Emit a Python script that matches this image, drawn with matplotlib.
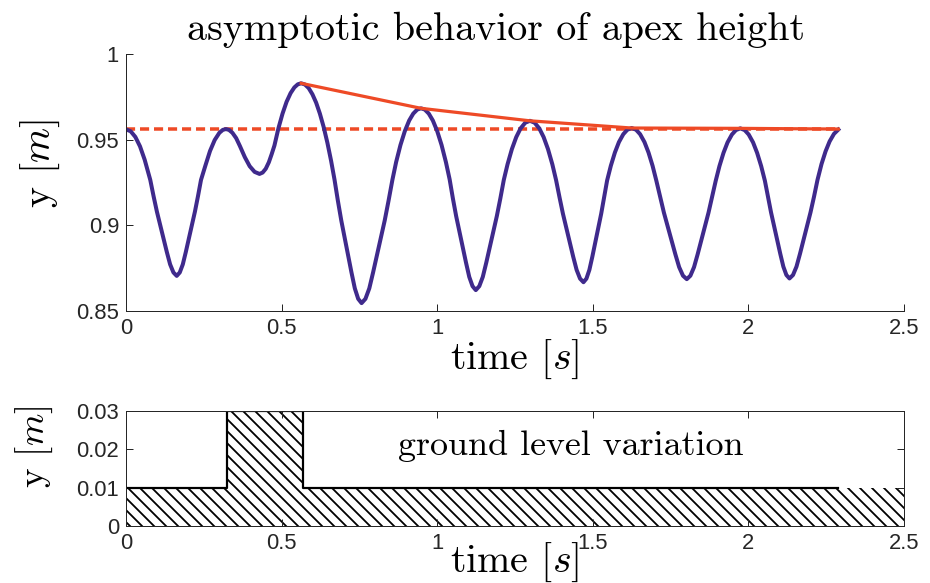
import numpy as np
import matplotlib.pyplot as plt

# apex height trajectory (t [s], y [m])
traj = [
    (0.000, 0.9560), (0.015, 0.9549), (0.030, 0.9516), (0.045, 0.9461), (0.060, 0.9383),
    (0.078, 0.9265), (0.0886, 0.9170), (0.0993, 0.9080), (0.1099, 0.9002), (0.1205, 0.8923),
    (0.1311, 0.8845), (0.1418, 0.8772), (0.1524, 0.8725), (0.163, 0.8705), (0.1728, 0.8725),
    (0.1825, 0.8772), (0.1923, 0.8845), (0.2020, 0.8923), (0.2118, 0.9002), (0.2215, 0.9080),
    (0.2313, 0.9170), (0.241, 0.9265), (0.255, 0.9348), (0.270, 0.9434), (0.285, 0.9498),
    (0.300, 0.9540), (0.311, 0.9557), (0.321, 0.9562), (0.331, 0.9557), (0.342, 0.9540),
    (0.354, 0.9509), (0.366, 0.9463), (0.3818, 0.9398), (0.3975, 0.9345), (0.4133, 0.9312),
    (0.429, 0.9300), (0.439, 0.9308), (0.449, 0.9330), (0.459, 0.9368), (0.468, 0.9415),
    (0.477, 0.9466), (0.490, 0.9568), (0.503, 0.9652), (0.516, 0.9721), (0.529, 0.9772),
    (0.541, 0.9805), (0.552, 0.9823), (0.563, 0.9829), (0.575, 0.9822), (0.587, 0.9801),
    (0.599, 0.9765), (0.611, 0.9716), (0.623, 0.9652), (0.635, 0.9575), (0.647, 0.9483),
    (0.659, 0.9377), (0.670, 0.9267), (0.6809, 0.9143), (0.6918, 0.9028), (0.7026, 0.8927),
    (0.7135, 0.8826), (0.7244, 0.8726), (0.7353, 0.8632), (0.7461, 0.8571), (0.757, 0.8546),
    (0.7694, 0.8571), (0.7818, 0.8632), (0.7941, 0.8726), (0.8065, 0.8826), (0.8189, 0.8927),
    (0.8313, 0.9028), (0.8436, 0.9143), (0.856, 0.9265), (0.868, 0.9369), (0.882, 0.9469),
    (0.896, 0.9550), (0.910, 0.9612), (0.923, 0.9652), (0.936, 0.9676), (0.948, 0.9683),
    (0.960, 0.9676), (0.973, 0.9652), (0.986, 0.9612), (1.000, 0.9550), (1.014, 0.9469),
    (1.028, 0.9369), (1.040, 0.9268), (1.0505, 0.9156), (1.061, 0.9053), (1.0715, 0.8963),
    (1.082, 0.8873), (1.0925, 0.8783), (1.103, 0.8699), (1.1135, 0.8645), (1.124, 0.8622),
    (1.1353, 0.8645), (1.1465, 0.8699), (1.1578, 0.8783), (1.169, 0.8873), (1.1803, 0.8963),
    (1.1915, 0.9053), (1.2028, 0.9156), (1.214, 0.9265), (1.226, 0.9356), (1.240, 0.9445),
    (1.254, 0.9515), (1.268, 0.9566), (1.283, 0.9599), (1.298, 0.9610), (1.313, 0.9599),
    (1.328, 0.9566), (1.342, 0.9515), (1.356, 0.9445), (1.370, 0.9356), (1.382, 0.9264),
    (1.393, 0.9164), (1.404, 0.9068), (1.415, 0.8984), (1.426, 0.8901), (1.437, 0.8817),
    (1.448, 0.8740), (1.459, 0.8689), (1.470, 0.8668), (1.4795, 0.8689), (1.489, 0.8740),
    (1.4985, 0.8817), (1.508, 0.8901), (1.5175, 0.8984), (1.527, 0.9068), (1.5365, 0.9164),
    (1.546, 0.9262), (1.558, 0.9348), (1.571, 0.9425), (1.584, 0.9486), (1.598, 0.9532),
    (1.611, 0.9558), (1.625, 0.9568), (1.639, 0.9558), (1.652, 0.9532), (1.666, 0.9486),
    (1.679, 0.9425), (1.692, 0.9348), (1.704, 0.9262), (1.7163, 0.9167), (1.7285, 0.9074),
    (1.7408, 0.8993), (1.753, 0.8912), (1.7653, 0.8831), (1.7775, 0.8756), (1.7898, 0.8706),
    (1.802, 0.8686), (1.8136, 0.8706), (1.8253, 0.8756), (1.8369, 0.8831), (1.8485, 0.8912),
    (1.8601, 0.8993), (1.8718, 0.9074), (1.8834, 0.9167), (1.895, 0.9260), (1.907, 0.9346),
    (1.920, 0.9423), (1.933, 0.9484), (1.947, 0.9530), (1.960, 0.9556), (1.974, 0.9566),
    (1.988, 0.9556), (2.001, 0.9530), (2.015, 0.9484), (2.028, 0.9423), (2.041, 0.9346),
    (2.053, 0.9260), (2.0629, 0.9167), (2.0728, 0.9075), (2.0826, 0.8995), (2.0925, 0.8914),
    (2.1024, 0.8834), (2.1123, 0.8759), (2.1221, 0.8710), (2.132, 0.8690), (2.1433, 0.8710),
    (2.1545, 0.8759), (2.1658, 0.8834), (2.177, 0.8914), (2.1883, 0.8995), (2.1995, 0.9075),
    (2.2108, 0.9167), (2.222, 0.9265), (2.235, 0.9358), (2.248, 0.9432), (2.261, 0.9490),
    (2.275, 0.9534), (2.289, 0.9559),
]
t_traj = [p[0] for p in traj]
y_traj = [p[1] for p in traj]

# apex heights after the step (envelope)
t_env = [0.563, 0.948, 1.298, 1.625, 1.974, 2.289]
y_env = [0.9829, 0.9683, 0.9610, 0.9568, 0.9566, 0.9562]

y_limit = 0.9563
t_end = 2.289

# ground profile
ground_t = [0, 0.323, 0.568, 2.5]
ground_y = [0.01, 0.03, 0.01, 0.01]

xticks = [0, 0.5, 1, 1.5, 2, 2.5]
xticklabels = ['0', '0.5', '1', '1.5', '2', '2.5']
yticks1 = [0.85, 0.9, 0.95, 1]
yticklabels1 = ['0.85', '0.9', '0.95', '1']
yticks2 = [0, 0.01, 0.02, 0.03]
yticklabels2 = ['0', '0.01', '0.02', '0.03']

blue = '#3f2a8c'
red = '#ee4a26'
axcol = '#262626'

plt.rcParams['mathtext.fontset'] = 'cm'
plt.rcParams['hatch.linewidth'] = 1.8
plt.rcParams['font.family'] = 'Liberation Sans'

fig = plt.figure(figsize=(930 / 72, 583 / 72), dpi=72)
ax1 = fig.add_axes([126 / 930, 1 - 311 / 583, 778 / 930, 257 / 583])
ax2 = fig.add_axes([126 / 930, 1 - 526 / 583, 778 / 930, 115 / 583])

# top panel
ax1.plot([0, t_end], [y_limit, y_limit], color=red, lw=3.5, ls=(0, (2.6, 1.4)))
ax1.plot(t_traj, y_traj, color=blue, lw=4, solid_joinstyle='round')
ax1.plot(t_env, y_env, color=red, lw=3.2, solid_joinstyle='round')
ax1.set_xlim(0, 2.5)
ax1.set_ylim(0.85, 1)
ax1.spines['top'].set_visible(False)
ax1.spines['right'].set_visible(False)
ax1.set_title('asymptotic behavior of apex height', fontfamily='cmr10',
              fontsize=40, x=0.4756, y=1.054, pad=0)
ax1.set_xlabel('time $[s]$', fontfamily='cmr10', fontsize=40)
ax1.set_ylabel('y $[m]$', fontfamily='cmr10', fontsize=40)
ax1.xaxis.set_label_coords(0.5, -0.105)
ax1.yaxis.set_label_coords(-0.082, 0.572)
ax1.set_xticks(xticks, xticklabels)
ax1.set_yticks(yticks1, yticklabels1)

# bottom panel
ax2.fill_between(ground_t, 0, ground_y, step='post', facecolor='white',
                 edgecolor='black', hatch='\\\\', linewidth=0)
ax2.step([0, 0.323, 0.568, t_end], [0.01, 0.03, 0.01, 0.01], where='post',
         color='black', lw=2.2)
ax2.text(1.43, 0.0185, 'ground level variation', fontfamily='cmr10',
         fontsize=36, ha='center', va='baseline')
ax2.set_xlim(0, 2.5)
ax2.set_ylim(0, 0.03)
ax2.set_xlabel('time $[s]$', fontfamily='cmr10', fontsize=40)
ax2.set_ylabel('y $[m]$', fontfamily='cmr10', fontsize=37)
ax2.xaxis.set_label_coords(0.5, -0.13)
ax2.yaxis.set_label_coords(-0.091, 0.687)
ax2.set_xticks(xticks, xticklabels)
ax2.set_yticks(yticks2, yticklabels2)
ax2.tick_params(top=True, right=True)

for ax in (ax1, ax2):
    ax.tick_params(direction='in', length=7, width=1, colors=axcol,
                   labelsize=22, pad=7)
    for sp in ax.spines.values():
        sp.set_color(axcol)
        sp.set_linewidth(1)

fig.savefig('out.png', dpi=72)
